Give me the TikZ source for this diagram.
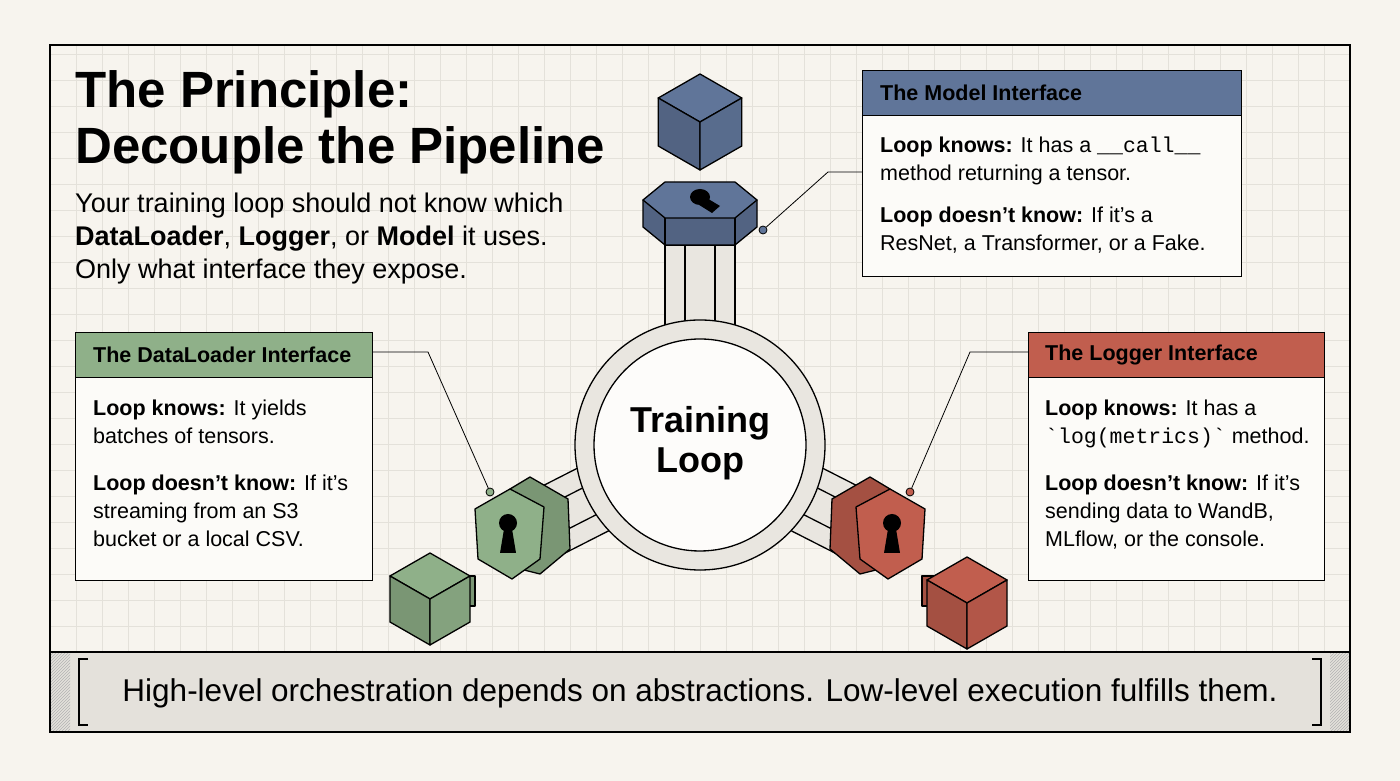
\documentclass[tikz,border=0pt]{standalone}
\usepackage{fontspec}
\setmainfont{Liberation Sans}
\setmonofont{Liberation Mono}
\usetikzlibrary{positioning,patterns,calc}
\definecolor{paper}{RGB}{247,244,238}
\definecolor{gridc}{RGB}{228,225,218}
\definecolor{band}{RGB}{228,225,219}
\definecolor{ringc}{RGB}{233,230,224}
\definecolor{mblue}{RGB}{96,117,153}
\definecolor{mgreen}{RGB}{143,176,137}
\definecolor{mred}{RGB}{193,94,78}
\tikzset{
	box/.style={draw,fill=white!60!paper,line width=1.2pt,anchor=north west,inner sep=0pt},
	head/.style={draw,line width=1.2pt,anchor=north west,inner sep=0pt,minimum height=45pt},
	headtext/.style={inner sep=0pt,font=\fontsize{21.5}{22}\selectfont\bfseries},
	body/.style={anchor=north west,align=left,inner sep=0pt,font=\fontsize{21.5}{28}\selectfont},
	callout/.style={line width=0.8pt},
	dotc/.style={circle,draw,line width=0.8pt,inner sep=0pt,minimum size=8pt},
	edge/.style={line width=1.3pt,line join=round},
}
% isometric cube: centre, size, colour
\newcommand{\isocube}[3]{
	\begin{scope}[shift={#1}]
		\filldraw[edge,fill=#3] (0,0) -- (-0.87*#2,0.5*#2) -- (0,#2) -- (0.87*#2,0.5*#2) -- cycle;
		\filldraw[edge,fill=#3!85!black] (0,0) -- (-0.87*#2,0.5*#2) -- (-0.87*#2,-0.5*#2) -- (0,-#2) -- cycle;
		\filldraw[edge,fill=#3!92!black] (0,0) -- (0.87*#2,0.5*#2) -- (0.87*#2,-0.5*#2) -- (0,-#2) -- cycle;
	\end{scope}}
% keyhole
\newcommand{\keyhole}[1]{
	\fill[black] ($#1+(0,6)$) circle (9) ($#1+(-4,0)$) -- ($#1+(-8,-24)$) -- ($#1+(8,-24)$) -- ($#1+(4,0)$) -- cycle;}
\begin{document}
\begin{tikzpicture}[x=1pt,y=1pt]
	\fill[paper] (0,0) rectangle (1400,781);
	\useasboundingbox (0,0) rectangle (1400,781);
	
	% grid...................
	\begin{scope}
		\clip (50,129) rectangle (1350,736);
		\foreach \x in {50,76,...,1350} \draw[gridc,line width=0.7pt] (\x,129) -- (\x,736);
		\foreach \y in {129,155,...,736} \draw[gridc,line width=0.7pt] (50,\y) -- (1350,\y);
	\end{scope}
	\draw[line width=1.2pt] (50,49) rectangle (1350,736);
	
	% bottom band...................
	\fill[band] (50,49) rectangle (1350,129);
	\fill[pattern=north east lines,pattern color=gray!60] (51,50) rectangle (70,128) (1330,50) rectangle (1349,128);
	\draw[line width=1.2pt] (50,49) rectangle (1350,129);
	\draw[line width=1.2pt] (88,122) -- (79,122) -- (79,56) -- (88,56);
	\draw[line width=1.2pt] (1312,122) -- (1321,122) -- (1321,56) -- (1312,56);
	\node[font=\fontsize{31.5}{32}\selectfont] (motto) at (700,88) {High-level orchestration depends on abstractions. Low-level execution fulfills them.};
	
	% title...................
	\node[anchor=north west,inner sep=0pt,align=left,font=\fontsize{51}{56}\selectfont\bfseries] (title) at (75,711) {The Principle:\\Decouple the Pipeline};
	\node[anchor=north west,inner sep=0pt,align=left,font=\fontsize{27}{33}\selectfont] (intro) at (75,588) {Your training loop should not know which\\\textbf{DataLoader}, \textbf{Logger}, or \textbf{Model} it uses.\\Only what interface they expose.};
	
	% spokes...................
	\foreach \a/\l in {90/200,207/185,333/185} {
		\begin{scope}[shift={(700,336)},rotate=\a]
			\filldraw[edge,fill=ringc] (100,-35) rectangle (\l,35);
			\draw[edge] (100,-15) -- (\l,-15) (100,15) -- (\l,15);
		\end{scope}}
	
	% ring...................
	\filldraw[edge,fill=ringc] (700,336) circle (125);
	\filldraw[edge,fill=white!70!paper] (700,336) circle (106);
	\node[align=center,font=\fontsize{36}{40}\selectfont\bfseries] (loop) at (700,338) {Training\\Loop};
	
	% top nut...................
	\filldraw[edge,fill=mblue!85!black] (643,581) -- (643,554) -- (665,536) -- (735,536) -- (757,554) -- (757,581) -- cycle;
	\draw[edge] (665,536) -- (665,563) (735,536) -- (735,563);
	\filldraw[edge,fill=mblue] (643,581) -- (665,563) -- (735,563) -- (757,581) -- (735,599) -- (665,599) -- cycle;
	\fill[black] (700,584) ellipse (10 and 8) (696,578) -- (712,568) -- (720,575) -- (705,584) -- cycle;
	\isocube{(700,659)}{48}{mblue}
	
	% green nut...................
	\begin{scope}[shift={(520,252)}]
		\filldraw[edge,fill=mgreen!85!black] (10,52) -- (48,30) -- (50,-20) -- (20,-45) -- (0,-40) -- (-10,40) -- cycle;
		\filldraw[edge,fill=mgreen] (-10,40) -- (24,22) -- (20,-30) -- (-8,-50) -- (-42,-30) -- (-45,20) -- cycle;
		\keyhole{(-12,0)}
	\end{scope}
	\filldraw[edge,fill=mgreen!85!black] (450,205) rectangle (475,175);
	\isocube{(430,182)}{46}{mgreen}
	
	% red nut...................
	\begin{scope}[shift={(880,252)},xscale=-1]
		\filldraw[edge,fill=mred!85!black] (10,52) -- (48,30) -- (50,-20) -- (20,-45) -- (0,-40) -- (-10,40) -- cycle;
		\filldraw[edge,fill=mred] (-10,40) -- (24,22) -- (20,-30) -- (-8,-50) -- (-42,-30) -- (-45,20) -- cycle;
		\keyhole{(-12,0)}
	\end{scope}
	\filldraw[edge,fill=mred!85!black] (922,205) rectangle (947,175);
	\isocube{(967,178)}{46}{mred}
	
	% model box...................
	\node[box,minimum width=379pt,minimum height=206pt] (mbox) at (862,711) {};
	\node[head,fill=mblue,minimum width=379pt] (mhead) at (862,711) {};
	\node[headtext,right=18pt of mhead.west] (mtitle) {The Model Interface};
	\node[body] (mknow) at (880,644) {\textbf{Loop knows:} It has a \texttt{\_\_call\_\_}\\method returning a tensor.};
	\node[body] (mdont) at (880,574) {\textbf{Loop doesn’t know:} If it’s a\\ResNet, a Transformer, or a Fake.};
	
	% dataloader box...................
	\node[box,minimum width=297pt,minimum height=248pt] (dbox) at (75,449) {};
	\node[head,fill=mgreen,minimum width=297pt] (dhead) at (75,449) {};
	\node[headtext,right=18pt of dhead.west] (dtitle) {The DataLoader Interface};
	\node[body] (dknow) at (93,381) {\textbf{Loop knows:} It yields\\batches of tensors.};
	\node[body] (ddont) at (93,306) {\textbf{Loop doesn’t know:} If it’s\\streaming from an S3\\bucket or a local CSV.};
	
	% logger box...................
	\node[box,minimum width=296pt,minimum height=248pt] (lbox) at (1028,449) {};
	\node[head,fill=mred,minimum width=296pt] (lhead) at (1028,449) {};
	\node[headtext,right=17pt of lhead.west] (ltitle) {The Logger Interface};
	\node[body] (lknow) at (1045,381) {\textbf{Loop knows:} It has a\\\texttt{`log(metrics)`} method.};
	\node[body] (ldont) at (1045,306) {\textbf{Loop doesn’t know:} If it’s\\sending data to WandB,\\MLflow, or the console.};
	
	% callouts...................
	\node[dotc,fill=mblue] (mdot) at (763,551) {};
	\node[dotc,fill=mgreen] (ddot) at (490,289) {};
	\node[dotc,fill=mred] (ldot) at (910,289) {};
	\coordinate (melbow) at (828,609);
	\coordinate (delbow) at (428,429);
	\coordinate (lelbow) at (970,429);
	\draw[callout] (mdot) -- (melbow) -- (melbow -| mbox.west);
	\draw[callout] (ddot) -- (delbow) -- (delbow -| dbox.east);
	\draw[callout] (ldot) -- (lelbow) -- (lelbow -| lbox.west);
\end{tikzpicture}
\end{document}
